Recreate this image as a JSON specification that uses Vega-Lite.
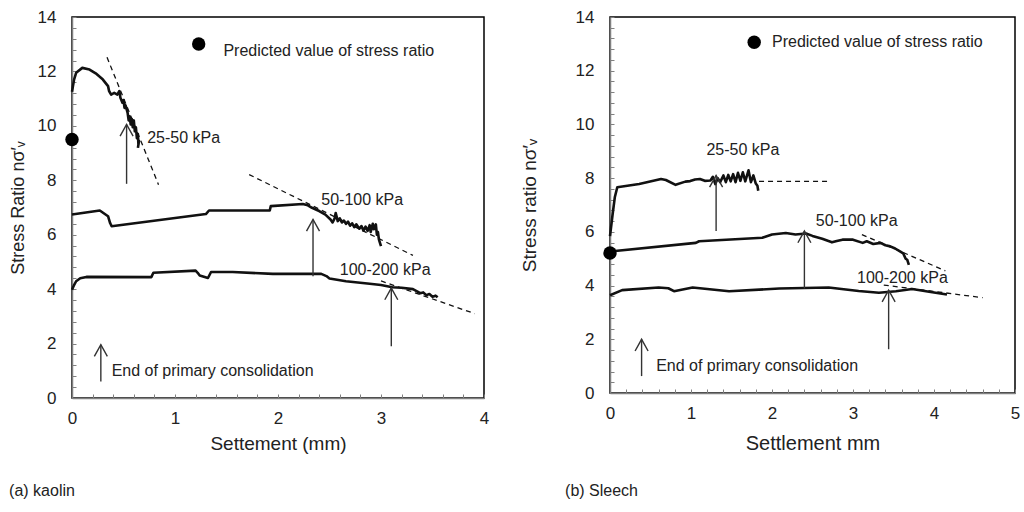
{
  "$schema": "https://vega.github.io/schema/vega-lite/v6.json",
  "background": "white",
  "padding": {"left": 8, "top": 7, "right": 5, "bottom": 5},
  "spacing": 29,
  "config": {
    "font": "Liberation Sans",
    "view": {"stroke": "black", "strokeWidth": 1.5},
    "axis": {
      "grid": false,
      "domainColor": "#808080",
      "domainWidth": 1.5,
      "tickColor": "#808080",
      "tickSize": -4,
      "tickWidth": 1,
      "tickCount": 100,
      "tickMinStep": 0.1,
      "labelColor": "#222222",
      "labelFontSize": 17,
      "labelPadding": 20,
      "labelOverlap": false,
      "labelFlush": false,
      "titleColor": "#222222",
      "titleFontWeight": "normal",
      "titleFontSize": 19
    },
    "text": {"font": "Liberation Sans", "fontSize": 16, "color": "#222222", "align": "left", "baseline": "middle"}
  },
  "datasets": {
    "kLines": [
      {"s": "k25", "x": 0, "y": 11.25}, {"s": "k25", "x": 0.02, "y": 11.7}, {"s": "k25", "x": 0.04, "y": 11.95}, {"s": "k25", "x": 0.1, "y": 12.13}, {"s": "k25", "x": 0.17, "y": 12.07}, {"s": "k25", "x": 0.23, "y": 11.93}, {"s": "k25", "x": 0.3, "y": 11.7}, {"s": "k25", "x": 0.35, "y": 11.46}, {"s": "k25", "x": 0.36, "y": 11.28}, {"s": "k25", "x": 0.38, "y": 11.15}, {"s": "k25", "x": 0.41, "y": 11.21}, {"s": "k25", "x": 0.44, "y": 11.15}, {"s": "k25", "x": 0.46, "y": 11.28}, {"s": "k25", "x": 0.47, "y": 11.03}, {"s": "k25", "x": 0.49, "y": 10.85}, {"s": "k25", "x": 0.5, "y": 10.95}, {"s": "k25", "x": 0.51, "y": 10.66}, {"s": "k25", "x": 0.52, "y": 10.75}, {"s": "k25", "x": 0.54, "y": 10.48}, {"s": "k25", "x": 0.55, "y": 10.2}, {"s": "k25", "x": 0.56, "y": 10.35}, {"s": "k25", "x": 0.57, "y": 10.05}, {"s": "k25", "x": 0.58, "y": 10.25}, {"s": "k25", "x": 0.59, "y": 9.95}, {"s": "k25", "x": 0.6, "y": 10.2}, {"s": "k25", "x": 0.61, "y": 9.8}, {"s": "k25", "x": 0.62, "y": 9.95}, {"s": "k25", "x": 0.63, "y": 9.55}, {"s": "k25", "x": 0.64, "y": 9.7}, {"s": "k25", "x": 0.645, "y": 9.3}, {"s": "k25", "x": 0.65, "y": 9.45}, {"s": "k25", "x": 0.64, "y": 9.19},
      {"s": "k50", "x": 0, "y": 6.74}, {"s": "k50", "x": 0.27, "y": 6.89}, {"s": "k50", "x": 0.35, "y": 6.68}, {"s": "k50", "x": 0.37, "y": 6.43}, {"s": "k50", "x": 0.385, "y": 6.31}, {"s": "k50", "x": 1.3, "y": 6.76}, {"s": "k50", "x": 1.33, "y": 6.89}, {"s": "k50", "x": 1.92, "y": 6.89}, {"s": "k50", "x": 1.93, "y": 7.05}, {"s": "k50", "x": 2.24, "y": 7.13}, {"s": "k50", "x": 2.29, "y": 7.08}, {"s": "k50", "x": 2.33, "y": 6.99}, {"s": "k50", "x": 2.4, "y": 6.87}, {"s": "k50", "x": 2.46, "y": 6.74}, {"s": "k50", "x": 2.51, "y": 6.56}, {"s": "k50", "x": 2.53, "y": 6.45}, {"s": "k50", "x": 2.55, "y": 6.6}, {"s": "k50", "x": 2.56, "y": 6.8}, {"s": "k50", "x": 2.58, "y": 6.5}, {"s": "k50", "x": 2.6, "y": 6.6}, {"s": "k50", "x": 2.62, "y": 6.45}, {"s": "k50", "x": 2.64, "y": 6.52}, {"s": "k50", "x": 2.66, "y": 6.4}, {"s": "k50", "x": 2.68, "y": 6.48}, {"s": "k50", "x": 2.7, "y": 6.33}, {"s": "k50", "x": 2.72, "y": 6.42}, {"s": "k50", "x": 2.74, "y": 6.28}, {"s": "k50", "x": 2.76, "y": 6.38}, {"s": "k50", "x": 2.79, "y": 6.22}, {"s": "k50", "x": 2.81, "y": 6.32}, {"s": "k50", "x": 2.83, "y": 6.15}, {"s": "k50", "x": 2.85, "y": 6.3}, {"s": "k50", "x": 2.87, "y": 6.14}, {"s": "k50", "x": 2.89, "y": 6.35}, {"s": "k50", "x": 2.9, "y": 6.1}, {"s": "k50", "x": 2.92, "y": 6.4}, {"s": "k50", "x": 2.93, "y": 6.2}, {"s": "k50", "x": 2.95, "y": 6.38}, {"s": "k50", "x": 2.96, "y": 6.0}, {"s": "k50", "x": 2.97, "y": 6.1}, {"s": "k50", "x": 2.98, "y": 5.82}, {"s": "k50", "x": 3.0, "y": 5.58},
      {"s": "k100", "x": 0, "y": 3.98}, {"s": "k100", "x": 0.02, "y": 4.15}, {"s": "k100", "x": 0.04, "y": 4.29}, {"s": "k100", "x": 0.08, "y": 4.4}, {"s": "k100", "x": 0.14, "y": 4.45}, {"s": "k100", "x": 0.77, "y": 4.44}, {"s": "k100", "x": 0.79, "y": 4.6}, {"s": "k100", "x": 1.2, "y": 4.68}, {"s": "k100", "x": 1.22, "y": 4.6}, {"s": "k100", "x": 1.24, "y": 4.5}, {"s": "k100", "x": 1.32, "y": 4.41}, {"s": "k100", "x": 1.35, "y": 4.63}, {"s": "k100", "x": 1.56, "y": 4.63}, {"s": "k100", "x": 1.95, "y": 4.56}, {"s": "k100", "x": 2.42, "y": 4.56}, {"s": "k100", "x": 2.47, "y": 4.48}, {"s": "k100", "x": 2.5, "y": 4.39}, {"s": "k100", "x": 2.66, "y": 4.29}, {"s": "k100", "x": 2.89, "y": 4.2}, {"s": "k100", "x": 3.0, "y": 4.15}, {"s": "k100", "x": 3.11, "y": 4.07}, {"s": "k100", "x": 3.2, "y": 4.05}, {"s": "k100", "x": 3.31, "y": 4.0}, {"s": "k100", "x": 3.35, "y": 3.92}, {"s": "k100", "x": 3.38, "y": 3.85}, {"s": "k100", "x": 3.41, "y": 3.88}, {"s": "k100", "x": 3.44, "y": 3.78}, {"s": "k100", "x": 3.47, "y": 3.82}, {"s": "k100", "x": 3.5, "y": 3.72}, {"s": "k100", "x": 3.53, "y": 3.76}, {"s": "k100", "x": 3.55, "y": 3.7}
    ],
    "kDash": [
      {"s": "a", "x": 0.34, "y": 12.52}, {"s": "a", "x": 0.84, "y": 7.84},
      {"s": "b", "x": 1.72, "y": 8.21}, {"s": "b", "x": 3.31, "y": 5.24},
      {"s": "c", "x": 3.0, "y": 4.3}, {"s": "c", "x": 3.91, "y": 3.1}
    ],
    "kArrows": [
      {"x": 0.53, "y": 7.87, "y2": 10.05},
      {"x": 2.34, "y": 4.47, "y2": 6.56},
      {"x": 3.1, "y": 1.9, "y2": 4.04},
      {"x": 0.28, "y": 0.61, "y2": 1.96}
    ],
    "kText": [
      {"x": 0.73, "y": 9.56, "t": "25-50 kPa"},
      {"x": 2.42, "y": 7.29, "t": "50-100 kPa"},
      {"x": 2.6, "y": 4.72, "t": "100-200 kPa"},
      {"x": 1.47, "y": 12.75, "t": "Predicted value of stress ratio"},
      {"x": 0.385, "y": 1.0, "t": "End of primary consolidation"}
    ],
    "kDots": [
      {"x": 0, "y": 9.5}, {"x": 1.23, "y": 13.01}
    ],
    "sLines": [
      {"s": "s25", "x": 0, "y": 5.84}, {"s": "s25", "x": 0.03, "y": 6.6}, {"s": "s25", "x": 0.06, "y": 7.3}, {"s": "s25", "x": 0.09, "y": 7.66}, {"s": "s25", "x": 0.36, "y": 7.78}, {"s": "s25", "x": 0.63, "y": 7.97}, {"s": "s25", "x": 0.69, "y": 7.93}, {"s": "s25", "x": 0.81, "y": 7.75}, {"s": "s25", "x": 0.93, "y": 7.87}, {"s": "s25", "x": 0.99, "y": 7.89}, {"s": "s25", "x": 1.05, "y": 7.95}, {"s": "s25", "x": 1.11, "y": 7.97}, {"s": "s25", "x": 1.17, "y": 7.9}, {"s": "s25", "x": 1.24, "y": 7.91}, {"s": "s25", "x": 1.27, "y": 8.05}, {"s": "s25", "x": 1.3, "y": 7.78}, {"s": "s25", "x": 1.33, "y": 8.0}, {"s": "s25", "x": 1.36, "y": 7.85}, {"s": "s25", "x": 1.4, "y": 8.1}, {"s": "s25", "x": 1.43, "y": 7.85}, {"s": "s25", "x": 1.46, "y": 8.12}, {"s": "s25", "x": 1.49, "y": 7.88}, {"s": "s25", "x": 1.52, "y": 8.15}, {"s": "s25", "x": 1.55, "y": 7.85}, {"s": "s25", "x": 1.58, "y": 8.2}, {"s": "s25", "x": 1.61, "y": 7.9}, {"s": "s25", "x": 1.64, "y": 8.22}, {"s": "s25", "x": 1.67, "y": 7.88}, {"s": "s25", "x": 1.71, "y": 8.29}, {"s": "s25", "x": 1.74, "y": 7.85}, {"s": "s25", "x": 1.77, "y": 8.1}, {"s": "s25", "x": 1.8, "y": 7.8}, {"s": "s25", "x": 1.82, "y": 7.72}, {"s": "s25", "x": 1.83, "y": 7.53},
      {"s": "s50", "x": 0, "y": 5.27}, {"s": "s50", "x": 1.06, "y": 5.59}, {"s": "s50", "x": 1.1, "y": 5.65}, {"s": "s50", "x": 1.88, "y": 5.78}, {"s": "s50", "x": 2.0, "y": 5.9}, {"s": "s50", "x": 2.17, "y": 5.96}, {"s": "s50", "x": 2.29, "y": 5.9}, {"s": "s50", "x": 2.42, "y": 5.94}, {"s": "s50", "x": 2.5, "y": 5.85}, {"s": "s50", "x": 2.62, "y": 5.74}, {"s": "s50", "x": 2.74, "y": 5.61}, {"s": "s50", "x": 2.8, "y": 5.66}, {"s": "s50", "x": 2.87, "y": 5.71}, {"s": "s50", "x": 3.0, "y": 5.71}, {"s": "s50", "x": 3.12, "y": 5.59}, {"s": "s50", "x": 3.17, "y": 5.65}, {"s": "s50", "x": 3.25, "y": 5.55}, {"s": "s50", "x": 3.34, "y": 5.59}, {"s": "s50", "x": 3.4, "y": 5.5}, {"s": "s50", "x": 3.46, "y": 5.46}, {"s": "s50", "x": 3.52, "y": 5.38}, {"s": "s50", "x": 3.58, "y": 5.27}, {"s": "s50", "x": 3.62, "y": 5.2}, {"s": "s50", "x": 3.65, "y": 5.0}, {"s": "s50", "x": 3.67, "y": 4.96}, {"s": "s50", "x": 3.69, "y": 4.77},
      {"s": "s100", "x": 0, "y": 3.64}, {"s": "s100", "x": 0.15, "y": 3.83}, {"s": "s100", "x": 0.6, "y": 3.93}, {"s": "s100", "x": 0.72, "y": 3.9}, {"s": "s100", "x": 0.79, "y": 3.79}, {"s": "s100", "x": 1.02, "y": 3.93}, {"s": "s100", "x": 1.47, "y": 3.79}, {"s": "s100", "x": 2.09, "y": 3.89}, {"s": "s100", "x": 2.7, "y": 3.93}, {"s": "s100", "x": 3.07, "y": 3.8}, {"s": "s100", "x": 3.32, "y": 3.73}, {"s": "s100", "x": 3.53, "y": 3.79}, {"s": "s100", "x": 3.73, "y": 3.87}, {"s": "s100", "x": 3.94, "y": 3.77}, {"s": "s100", "x": 4.16, "y": 3.67}
    ],
    "sDash": [
      {"s": "a", "x": 1.84, "y": 7.88}, {"s": "a", "x": 2.68, "y": 7.88},
      {"s": "b", "x": 3.11, "y": 5.9}, {"s": "b", "x": 4.14, "y": 4.55},
      {"s": "c", "x": 3.38, "y": 4.02}, {"s": "c", "x": 4.6, "y": 3.55}
    ],
    "sArrows": [
      {"x": 1.31, "y": 6.03, "y2": 8.1},
      {"x": 2.4, "y": 3.89, "y2": 6.03},
      {"x": 3.44, "y": 1.63, "y2": 3.83},
      {"x": 0.39, "y": 0.63, "y2": 2.0}
    ],
    "sText": [
      {"x": 1.19, "y": 9.04, "t": "25-50 kPa"},
      {"x": 2.54, "y": 6.4, "t": "50-100 kPa"},
      {"x": 3.05, "y": 4.27, "t": "100-200 kPa"},
      {"x": 2.0, "y": 13.06, "t": "Predicted value of stress ratio"},
      {"x": 0.57, "y": 1.0, "t": "End of primary consolidation"}
    ],
    "sDots": [
      {"x": 0, "y": 5.21}, {"x": 1.78, "y": 13.06}
    ]
  },
  "hconcat": [
    {
      "width": 412,
      "height": 381,
      "title": {"text": "(a) kaolin", "orient": "bottom", "anchor": "start", "frame": "bounds", "offset": 30, "fontSize": 16, "fontWeight": "normal", "color": "#222222", "font": "Liberation Sans"},
      "encoding": {
        "x": {"field": "x", "type": "quantitative", "scale": {"domain": [0, 4], "nice": false, "zero": false},
          "axis": {"title": "Settement  (mm)", "labelOverlap": false, "tickCount": 100, "tickMinStep": 0.1, "values": [0, 0.2, 0.4, 0.6, 0.8, 1, 1.2, 1.4, 1.6, 1.8, 2, 2.2, 2.4, 2.6, 2.8, 3, 3.2, 3.4, 3.6, 3.8, 4], "labelExpr": "abs(datum.value - round(datum.value)) < 0.01 ? format(datum.value, 'd') : ''", "labelPadding": 16, "titlePadding": 8}},
        "y": {"field": "y", "type": "quantitative", "scale": {"domain": [0, 14], "nice": false},
          "axis": {"title": "Stress Ratio  nσ′ᵥ", "titleFontSize": 18, "labelOverlap": false, "tickCount": 100, "tickMinStep": 0.1, "values": [0, 0.4, 0.8, 1.2, 1.6, 2, 2.4, 2.8, 3.2, 3.6, 4, 4.4, 4.8, 5.2, 5.6, 6, 6.4, 6.8, 7.2, 7.6, 8, 8.4, 8.8, 9.2, 9.6, 10, 10.4, 10.8, 11.2, 11.6, 12, 12.4, 12.8, 13.2, 13.6, 14], "labelExpr": "abs(datum.value/2 - round(datum.value/2)) < 0.01 ? format(datum.value, 'd') : ''", "titlePadding": 10}}
      },
      "layer": [
        {"data": {"name": "kDash"}, "mark": {"type": "line", "color": "#111111", "strokeWidth": 1.3, "strokeDash": [5, 4]}, "encoding": {"detail": {"field": "s"}, "order": {"value": null}}},
        {"data": {"name": "kLines"}, "mark": {"type": "line", "color": "#111111", "strokeWidth": 2.6, "strokeJoin": "round"}, "encoding": {"detail": {"field": "s"}, "order": {"value": null}}},
        {"data": {"name": "kArrows"}, "mark": {"type": "rule", "color": "#333333", "strokeWidth": 1.4}, "encoding": {"y2": {"field": "y2"}}},
        {"data": {"name": "kArrows"}, "mark": {"type": "point", "shape": "M-1,1.8L0,0L1,1.8", "size": 169, "filled": false, "color": "#333333", "strokeWidth": 1.4, "opacity": 1}, "encoding": {"y": {"field": "y2", "type": "quantitative", "title": "Stress Ratio  nσ′ᵥ"}}},
        {"data": {"name": "kDots"}, "mark": {"type": "point", "shape": "circle", "filled": true, "size": 180, "color": "black", "opacity": 1}},
        {"data": {"name": "kText"}, "mark": {"type": "text"}, "encoding": {"text": {"field": "t"}}}
      ]
    },
    {
      "width": 405,
      "height": 376,
      "title": {"text": "(b) Sleech", "orient": "bottom", "anchor": "start", "frame": "bounds", "offset": 30, "dx": 45, "fontSize": 16, "fontWeight": "normal", "color": "#222222", "font": "Liberation Sans"},
      "encoding": {
        "x": {"field": "x", "type": "quantitative", "scale": {"domain": [0, 5], "nice": false, "zero": false},
          "axis": {"title": "Settlement mm", "titleFontSize": 20, "labelOverlap": false, "tickCount": 100, "tickMinStep": 0.1, "values": [0, 0.2, 0.4, 0.6, 0.8, 1, 1.2, 1.4, 1.6, 1.8, 2, 2.2, 2.4, 2.6, 2.8, 3, 3.2, 3.4, 3.6, 3.8, 4, 4.2, 4.4, 4.6, 4.8, 5], "labelExpr": "abs(datum.value - round(datum.value)) < 0.01 ? format(datum.value, 'd') : ''", "labelPadding": 16, "titlePadding": 12}},
        "y": {"field": "y", "type": "quantitative", "scale": {"domain": [0, 14], "nice": false},
          "axis": {"title": "Stress ratio nσ′ᵥ", "titleFontSize": 19, "labelOverlap": false, "tickCount": 100, "tickMinStep": 0.1, "values": [0, 0.4, 0.8, 1.2, 1.6, 2, 2.4, 2.8, 3.2, 3.6, 4, 4.4, 4.8, 5.2, 5.6, 6, 6.4, 6.8, 7.2, 7.6, 8, 8.4, 8.8, 9.2, 9.6, 10, 10.4, 10.8, 11.2, 11.6, 12, 12.4, 12.8, 13.2, 13.6, 14], "labelExpr": "abs(datum.value/2 - round(datum.value/2)) < 0.01 ? format(datum.value, 'd') : ''", "titlePadding": 36}}
      },
      "layer": [
        {"data": {"name": "sDash"}, "mark": {"type": "line", "color": "#111111", "strokeWidth": 1.3, "strokeDash": [5, 4]}, "encoding": {"detail": {"field": "s"}, "order": {"value": null}}},
        {"data": {"name": "sLines"}, "mark": {"type": "line", "color": "#111111", "strokeWidth": 2.6, "strokeJoin": "round"}, "encoding": {"detail": {"field": "s"}, "order": {"value": null}}},
        {"data": {"name": "sArrows"}, "mark": {"type": "rule", "color": "#333333", "strokeWidth": 1.4}, "encoding": {"y2": {"field": "y2"}}},
        {"data": {"name": "sArrows"}, "mark": {"type": "point", "shape": "M-1,1.8L0,0L1,1.8", "size": 169, "filled": false, "color": "#333333", "strokeWidth": 1.4, "opacity": 1}, "encoding": {"y": {"field": "y2", "type": "quantitative", "title": "Stress ratio nσ′ᵥ"}}},
        {"data": {"name": "sDots"}, "mark": {"type": "point", "shape": "circle", "filled": true, "size": 180, "color": "black", "opacity": 1}},
        {"data": {"name": "sText"}, "mark": {"type": "text"}, "encoding": {"text": {"field": "t"}}}
      ]
    }
  ]
}
